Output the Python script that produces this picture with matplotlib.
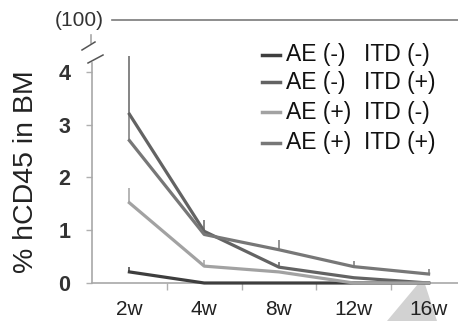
import numpy as np
import matplotlib
matplotlib.use("Agg")
import matplotlib.pyplot as plt
from matplotlib.lines import Line2D
from matplotlib.patches import Polygon

plt.rcParams["font.family"] = ["Liberation Sans", "DejaVu Sans"]

weeks = ["2w", "4w", "8w", "12w", "16w"]
y_ticks = [0, 1, 2, 3, 4]

# mean values and upper error per group
ae_neg_itd_neg = [0.21, 0.0, 0.0, 0.0, 0.0]
ae_neg_itd_neg_err = [0.09, 0.0, 0.0, 0.0, 0.0]
ae_neg_itd_pos = [3.2, 0.98, 0.30, 0.10, 0.0]
ae_neg_itd_pos_err = [1.1, 0.22, 0.10, 0.0, 0.0]
ae_pos_itd_neg = [1.52, 0.32, 0.21, 0.0, 0.0]
ae_pos_itd_neg_err = [0.28, 0.12, 0.0, 0.0, 0.0]
ae_pos_itd_pos = [2.7, 0.92, 0.63, 0.31, 0.17]
ae_pos_itd_pos_err = [0.5, 0.0, 0.19, 0.10, 0.10]

groups = [
    ("AE (-)", "ITD (-)", ae_neg_itd_neg, ae_neg_itd_neg_err, "#3e3e3e"),
    ("AE (-)", "ITD (+)", ae_neg_itd_pos, ae_neg_itd_pos_err, "#636363"),
    ("AE (+)", "ITD (-)", ae_pos_itd_neg, ae_pos_itd_neg_err, "#a2a2a2"),
    ("AE (+)", "ITD (+)", ae_pos_itd_pos, ae_pos_itd_pos_err, "#777777"),
]

W, H = 458, 321


def fx(x):
    return x / W


def fy(y):
    return 1 - y / H


fig = plt.figure(figsize=(W / 100, H / 100), dpi=100)
ax = fig.add_axes([fx(92), fy(283), 374 / W, (283 - 63) / H])

x = np.arange(len(weeks))
for ae, itd, vals, err, col in groups:
    vals = np.array(vals)
    ax.errorbar(x, vals, yerr=[np.zeros_like(vals), np.array(err)], fmt="none",
                ecolor=col, elinewidth=1.1, capsize=0, clip_on=False, zorder=2)
    ax.plot(x, vals, color=col, lw=2.3, clip_on=False, zorder=3)

ax.set_xlim(-0.5, len(weeks) - 0.5)
ax.set_ylim(0, 4.17)
for s in ["top", "right"]:
    ax.spines[s].set_visible(False)
for s in ["left", "bottom"]:
    ax.spines[s].set_color("#a8a8a8")
    ax.spines[s].set_linewidth(1.2)

ax.set_yticks(y_ticks)
ax.set_yticklabels([str(t) for t in y_ticks], fontsize=15.5, fontweight="bold",
                   color="#333333")
ax.tick_params(axis="y", length=4.5, width=1, color="#b0b0b0", pad=11)
ax.set_xticks(x)
ax.set_xticklabels(weeks, fontsize=15, color="#222222")
ax.set_xticks(x[:-1] + 0.5, minor=True)
ax.tick_params(axis="x", which="major", length=0, pad=12)
ax.tick_params(axis="x", which="minor", length=5, width=1, color="#b0b0b0")

fig.text(fx(26), fy(172), "% hCD45 in BM", rotation=90, fontsize=20.5,
         ha="center", va="center", color="#222222")

# broken axis decoration and the (100) level
fig.add_artist(Line2D([fx(112), fx(458)], [fy(20), fy(20)], color="#7a7a7a", lw=1.2))
fig.text(fx(104), fy(20), "(100)", fontsize=15, ha="right", va="center",
         color="#333333")
fig.add_artist(Line2D([fx(91), fx(91)], [fy(35), fy(43)], color="#a8a8a8", lw=1.2))
fig.add_artist(Line2D([fx(82), fx(95)], [fy(50), fy(42)], color="#555555", lw=1.1))
fig.add_artist(Line2D([fx(88), fx(103)], [fy(63), fy(55)], color="#555555", lw=1.1))

# grey wedge in the lower right corner
fig.add_artist(Polygon([(fx(387), 0), (fx(423), fy(278)), (fx(437), 0)],
                       closed=True, facecolor="#d2d2d2", edgecolor="none",
                       zorder=0))

# legend
row_y = [55, 82, 112, 143]
for (ae, itd, _, _, col), ry in zip(groups, row_y):
    fig.add_artist(Line2D([fx(262), fx(280)], [fy(ry), fy(ry)], color=col, lw=2.5))
    fig.text(fx(286), fy(ry), ae, fontsize=16.5, ha="left", va="center",
             color="#111111")
    fig.text(fx(364), fy(ry), itd, fontsize=16.5, ha="left", va="center",
             color="#111111")

fig.savefig("out.png", dpi=100)
